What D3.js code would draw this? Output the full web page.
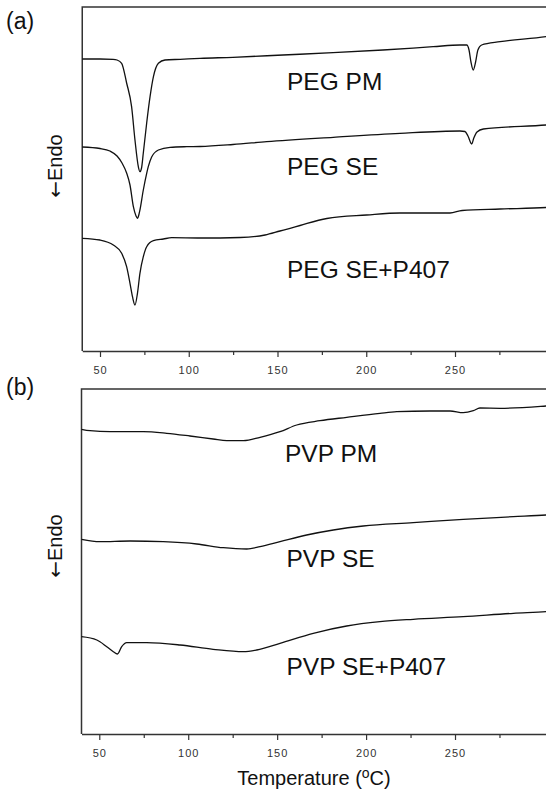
<!DOCTYPE html>
<html>
<head>
<meta charset="utf-8">
<script src="https://cdn.jsdelivr.net/npm/d3@7"></script>
<style>
  body { margin: 0; background: #fff; }
  svg { display: block; font-family: "Liberation Sans", Arial, sans-serif; }
</style>
</head>
<body>
<script>
// temperatures (C) and heat flow (arbitrary units, endo down)
var pegPmT   = [40, 50.0, 57.4, 59.6, 62.2, 65.0, 67.8, 69.7, 71.6, 72.5, 73.4, 74.4, 76.3, 78.2, 80.1, 82.9, 86.6, 95.1, 106.4, 124.9, 153.1, 181.3, 209.4, 237.7, 252.8, 256.6, 257.9, 259.0, 260.3, 261.6, 262.9, 265.0, 275.4, 301.3, 302];
var pegPmQ   = [295, 295, 294.7, 294, 290.7, 271, 247.3, 214, 187.3, 182.3, 186, 201, 231, 257.3, 277.3, 290.7, 294, 294.7, 295.7, 296.7, 299, 301.3, 304, 307.3, 309, 309, 304, 292, 284, 292, 304, 309, 312.3, 317.3, 317.5];

var pegSeT   = [40, 50.0, 55.6, 59.6, 62.4, 65.0, 66.9, 68.8, 70.3, 71.1, 72.0, 72.5, 74.4, 76.3, 77.2, 79.1, 82.9, 89.5, 98.9, 106.4, 124.9, 143.9, 181.4, 219.0, 252.8, 255.6, 257.3, 259.4, 260.6, 262.4, 266.0, 301.3, 302];
var pegSeQ   = [207, 205.5, 203, 198, 191, 181, 169, 147.3, 138, 135.7, 140, 144, 164, 180.7, 187.3, 197, 204, 206.7, 207.3, 207.5, 209.5, 212.3, 216.7, 220.7, 223, 222.5, 218, 210, 216, 222, 225, 229, 229.1];

var pegP407T = [40, 50.0, 57.5, 62.2, 65.0, 66.9, 68.3, 69.7, 71.1, 72.5, 74.4, 76.3, 80.1, 85.7, 90.4, 106.4, 128.9, 143.0, 151.4, 157.1, 162.7, 177.8, 200.2, 219.0, 247.2, 254.0, 275.4, 301.3, 302];
var pegP407Q = [115.7, 114, 109, 100.7, 87.3, 70.7, 57.3, 49, 60.7, 80.7, 97.3, 107.3, 113.3, 115, 116.3, 116, 116.5, 119, 123, 125.7, 128.5, 135.5, 139, 141, 141, 143.5, 145, 146.5, 146.6];

var pvpPmT   = [40, 44.8, 56.0, 74.8, 87.9, 101.0, 114.0, 121.7, 131.0, 140.4, 151.6, 161.0, 174.1, 189.1, 207.8, 217.2, 235.9, 247.2, 254.6, 260.3, 264.0, 275.3, 301.2, 302];
var pvpPmQ   = [306.7, 305.3, 304.3, 304.3, 302.7, 300, 297, 295.3, 295.3, 298.7, 304.3, 311, 315.3, 318.7, 322.7, 324.3, 325, 325, 323.3, 325.3, 328, 327.7, 330, 330.1];

var pvpSeT   = [40, 50.3, 67.3, 86.0, 104.8, 119.7, 132.9, 140.4, 151.6, 166.6, 181.6, 198.4, 226.5, 254.6, 282.8, 301.2, 302];
var pvpSeQ   = [196.7, 194.3, 195, 194.3, 192, 188.3, 187, 189.3, 194.3, 201, 206, 210, 213.3, 216.7, 219.3, 221, 221.1];

var pvpP407T = [40, 48.6, 54.2, 57.9, 60.2, 62.6, 65.4, 76.7, 95.4, 114.0, 131.0, 138.5, 151.6, 170.3, 189.1, 207.8, 226.5, 254.6, 282.8, 301.2, 302];
var pvpP407Q = [99.3, 96, 89.3, 84.3, 82, 89.3, 93.3, 93.3, 91, 86.7, 84.3, 86, 92.7, 102.7, 110, 114.3, 116.7, 119.3, 122.7, 124.3, 124.4];

var seriesNames = ['PEG PM', 'PEG SE', 'PEG SE+P407', 'PVP PM', 'PVP SE', 'PVP SE+P407'];
var majorTicks = [50, 100, 150, 200, 250];
var minorTicks = [75, 125, 175, 225, 275];

var width = 546, height = 791;

var svg = d3.select('body').append('svg')
  .attr('width', width)
  .attr('height', height);

function zip(t, q) {
  return t.map(function (d, i) { return { t: d, q: q[i] }; });
}

var panels = [
  { tag: '(a)', xr: [82.25, 547.3], top: 7, bottom: 351, q: [3, 347], tagY: 29, endoY: 166,
    series: [
      { name: seriesNames[0], data: zip(pegPmT, pegPmQ), lx: 287, ly: 90 },
      { name: seriesNames[1], data: zip(pegSeT, pegSeQ), lx: 287, ly: 175 },
      { name: seriesNames[2], data: zip(pegP407T, pegP407Q), lx: 287, ly: 278 }
    ] },
  { tag: '(b)', xr: [81.5, 547.5], top: 389, bottom: 734, q: [2, 347], tagY: 395, endoY: 546,
    series: [
      { name: seriesNames[3], data: zip(pvpPmT, pvpPmQ), lx: 285, ly: 462 },
      { name: seriesNames[4], data: zip(pvpSeT, pvpSeQ), lx: 286.5, ly: 567 },
      { name: seriesNames[5], data: zip(pvpP407T, pvpP407Q), lx: 286.5, ly: 675 }
    ] }
];

panels.forEach(function (p) {
  var x = d3.scaleLinear().domain([40, 302]).range(p.xr);
  var y = d3.scaleLinear().domain(p.q).range([p.bottom, p.top]);

  var g = svg.append('g');

  // frame: left and top edges, the bottom one comes from the axis
  g.append('path')
    .attr('d', 'M' + x(302) + ',' + p.top + 'H' + x(40) + 'V' + p.bottom)
    .attr('fill', 'none')
    .attr('stroke', '#333')
    .attr('stroke-width', 1.5);

  var axis = g.append('g')
    .attr('transform', 'translate(0,' + p.bottom + ')')
    .call(d3.axisBottom(x).tickValues(majorTicks).tickSize(6).tickSizeOuter(0).tickPadding(9));
  axis.select('.domain').attr('stroke', '#333').attr('stroke-width', 1.5);
  axis.selectAll('.tick line').attr('stroke', '#333').attr('stroke-width', 1.2);
  axis.selectAll('.tick text')
    .attr('font-size', 11)
    .attr('letter-spacing', 1)
    .attr('fill', '#333')
    .attr('font-family', '"Liberation Sans", Arial, sans-serif');

  var minor = g.append('g')
    .attr('transform', 'translate(0,' + p.bottom + ')')
    .call(d3.axisBottom(x).tickValues(minorTicks).tickSize(4).tickFormat(''));
  minor.select('.domain').remove();
  minor.selectAll('.tick line').attr('stroke', '#333').attr('stroke-width', 1.2);

  var line = d3.line()
    .x(function (d) { return x(d.t); })
    .y(function (d) { return y(d.q); })
    .curve(d3.curveMonotoneX);

  p.series.forEach(function (s) {
    g.append('path')
      .datum(s.data)
      .attr('d', line)
      .attr('fill', 'none')
      .attr('stroke', '#111')
      .attr('stroke-width', 1.3);

    g.append('text')
      .attr('x', s.lx)
      .attr('y', s.ly)
      .attr('font-size', 24.5)
      .attr('fill', '#111')
      .text(s.name);
  });

  svg.append('text')
    .attr('x', 6)
    .attr('y', p.tagY)
    .attr('font-size', 23)
    .attr('fill', '#111')
    .text(p.tag);

  var endo = svg.append('text')
    .attr('transform', 'translate(62,' + p.endoY + ') rotate(-90)')
    .attr('text-anchor', 'middle')
    .attr('font-size', 20)
    .attr('fill', '#111');
  endo.append('tspan').attr('font-family', '"DejaVu Sans", sans-serif').text('\u2190');
  endo.append('tspan').text('Endo');
});

var title = svg.append('text')
  .attr('x', 314)
  .attr('y', 785)
  .attr('text-anchor', 'middle')
  .attr('font-size', 20)
  .attr('fill', '#111');
title.append('tspan').text('Temperature (');
title.append('tspan').attr('font-size', 14).attr('dy', -7).text('o');
title.append('tspan').attr('dy', 7).text('C)');
</script>
</body>
</html>
